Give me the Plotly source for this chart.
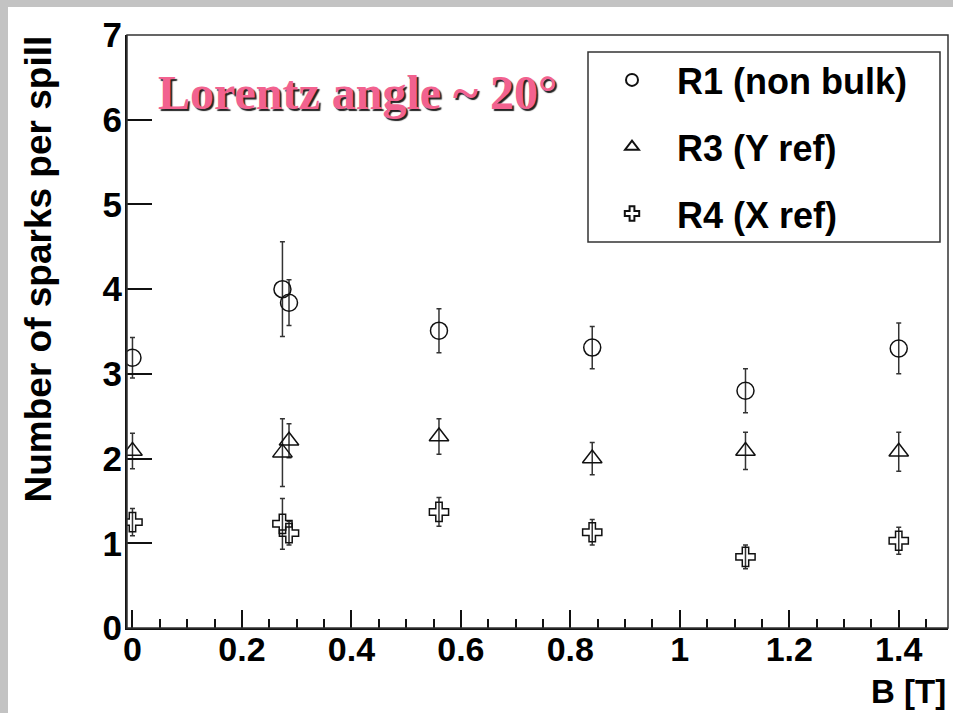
import plotly.graph_objects as go

# ---- data ----
B = [0.0, 0.274, 0.286, 0.56, 0.84, 1.12, 1.4]
r1 = [3.19, 4.00, 3.84, 3.51, 3.31, 2.80, 3.30]
r1_err = [0.24, 0.56, 0.27, 0.26, 0.25, 0.26, 0.30]
r3 = [2.09, 2.07, 2.21, 2.26, 2.00, 2.09, 2.08]
r3_err = [0.21, 0.40, 0.20, 0.21, 0.19, 0.22, 0.23]
r4 = [1.25, 1.23, 1.12, 1.37, 1.13, 0.84, 1.03]
r4_err = [0.16, 0.30, 0.14, 0.17, 0.15, 0.14, 0.16]

series_names = ["R1 (non bulk)", "R3 (Y ref)", "R4 (X ref)"]
x_ticks = [0, 0.2, 0.4, 0.6, 0.8, 1.0, 1.2, 1.4]
x_ticktext = ["0", "0.2", "0.4", "0.6", "0.8", "1", "1.2", "1.4"]
y_ticks = [0, 1, 2, 3, 4, 5, 6, 7]

W, H = 953, 713
L, R, T, Bm = 127, 5, 35, 85
pw, ph = W - L - R, H - T - Bm

def px2x(px):
    return (px - L) / pw

def py2y(py):
    return (H - Bm - py) / ph

FONT = "Liberation Sans"
fig = go.Figure()

symbols = ["circle-open", "triangle-up-open", "cross-open"]
sizes = [17, 17, 16]
for name, ys, es, sym, sz in zip(series_names, [r1, r3, r4], [r1_err, r3_err, r4_err], symbols, sizes):
    fig.add_trace(go.Scatter(
        x=B, y=ys, mode="markers", name=name, legendgroup=name,
        marker=dict(symbol=sym, size=sz, color="#111", line=dict(width=1.5, color="#111")),
        error_y=dict(type="data", array=es, visible=True, color="#333", thickness=1.5, width=2.5),
    ))

axis_common = dict(showgrid=False, zeroline=False, showline=True, linecolor="#111", linewidth=2,
                   ticks="inside", tickcolor="#111", tickwidth=1.5)

fig.update_layout(
    width=W, height=H,
    margin=dict(l=L, r=R, t=T, b=Bm, pad=0),
    paper_bgcolor="white", plot_bgcolor="white",
    xaxis=dict(range=[-0.01, 1.49], tickvals=x_ticks, ticktext=x_ticktext, ticklen=18,
               ticklabelstandoff=-10,
               tickfont=dict(family=FONT, size=34, color="#000", weight="bold"),
               minor=dict(dtick=0.05, tick0=0, ticks="inside", ticklen=9, tickwidth=1.5, tickcolor="#111"),
               **axis_common),
    yaxis=dict(range=[0, 7], tickvals=y_ticks, ticklen=25, ticklabelstandoff=-4,
               tickfont=dict(family=FONT, size=35, color="#000", weight="bold"),
               **axis_common),
    showlegend=True,
    legend=dict(x=px2x(587), y=py2y(50), xanchor="left", yanchor="top",
                bgcolor="rgba(0,0,0,0)", borderwidth=0, itemsizing="constant",
                itemwidth=80, tracegroupgap=17,
                font=dict(family=FONT, size=36, color="#000", weight="bold")),
)

shapes = [
    # plot frame
    dict(type="rect", xref="paper", yref="paper", x0=0, x1=1, y0=0, y1=1,
         line=dict(color="#333", width=1.5)),
    # legend box
    dict(type="rect", xref="paper", yref="paper", x0=px2x(588), x1=px2x(940), y0=py2y(242), y1=py2y(52),
         line=dict(color="#333", width=1.5)),
    # gray border strips
    dict(type="rect", xref="paper", yref="paper", x0=px2x(0), x1=px2x(8), y0=py2y(H), y1=py2y(0),
         fillcolor="#c3c3c3", line=dict(width=0), layer="below"),
    dict(type="rect", xref="paper", yref="paper", x0=px2x(0), x1=px2x(W), y0=py2y(7), y1=py2y(0),
         fillcolor="#c3c3c3", line=dict(width=0), layer="below"),
]
fig.update_layout(shapes=shapes)

annotations = [
    dict(text="B [T]", xref="paper", yref="paper", x=1.0, y=py2y(691), xanchor="right", yanchor="middle",
         showarrow=False, font=dict(family=FONT, size=33, color="#000", weight="bold")),
    dict(text="Number of sparks per spill", xref="paper", yref="paper", x=px2x(38), y=py2y(34),
         xanchor="center", yanchor="top", textangle=-90, showarrow=False,
         font=dict(family=FONT, size=37, color="#000", weight="bold")),
    dict(text="Lorentz angle ~ 20°", xref="paper", yref="paper", x=px2x(156), y=py2y(93),
         xanchor="left", yanchor="middle", showarrow=False,
         font=dict(family="Liberation Serif", size=48, color="#f2628f", weight="bold",
                   shadow="2px 2px 1px #222")),
]
fig.update_layout(annotations=annotations)

fig.write_html("out.html")
